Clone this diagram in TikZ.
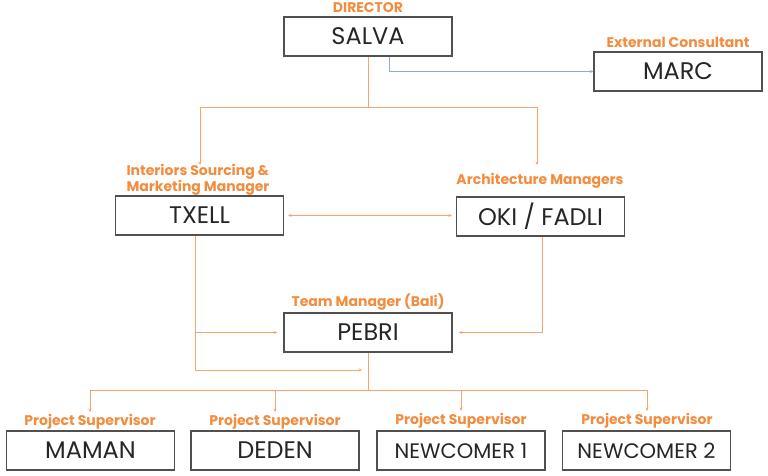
\documentclass[tikz,border=0pt]{standalone}
\usepackage{fontspec}
\setmainfont{Poppins}
\usetikzlibrary{arrows.meta}
\definecolor{lineor}{HTML}{F7A46E}
\definecolor{labor}{HTML}{F28C3E}
\definecolor{lineblue}{HTML}{8FA9DA}
\definecolor{boxgray}{HTML}{505050}
\begin{document}
\begin{tikzpicture}[x=1pt,y=-1pt,
  box/.style={draw=boxgray,line width=1.3pt,minimum width=168pt,minimum height=39pt,inner sep=0pt,font=\fontsize{24}{28}\selectfont,text=black!85},
  lab/.style={text=labor,font=\bfseries\fontsize{14}{13.5}\selectfont,inner sep=0pt},
  conn/.style={draw=lineor,line width=1pt,-{Stealth[length=3.5pt,width=3pt]}},
  conn2/.style={draw=lineor,line width=1pt}]
\useasboundingbox (0,0) rectangle (768,476);
% boxes
\node[box] (salva) at (368,36.5) {SALVA};
\node[box] (marc) at (678,71.5) {MARC};
\node[box] (txell) at (199.5,215.5) {TXELL};
\node[box] (oki) at (540.5,216.5) {OKI / FADLI};
\node[box] (pebri) at (368,332.5) {PEBRI};
\node[box] (maman) at (90.5,450.5) {MAMAN};
\node[box] (deden) at (275,450.5) {DEDEN};
\node[box,font=\fontsize{21}{24}\selectfont] (nc1) at (461,450.5) {NEWCOMER 1};
\node[box,font=\fontsize{21}{24}\selectfont] (nc2) at (646.5,450.5) {NEWCOMER 2};
% labels
\node[lab] (ldir) at (368,7.5) {DIRECTOR};
\node[lab] (lext) at (678,42.5) {External Consultant};
\node[lab,align=left] (lint) at (198,179.5) {Interiors Sourcing \&\\Marketing Manager};
\node[lab] (larch) at (540,180.5) {Architecture Managers};
\node[lab] (lteam) at (368,302.5) {Team Manager (Bali)};
\node[lab] (lps1) at (90,421.5) {Project Supervisor};
\node[lab] (lps2) at (275,421.5) {Project Supervisor};
\node[lab] (lps3) at (461,420.5) {Project Supervisor};
\node[lab] (lps4) at (647,420.5) {Project Supervisor};
% coordinates
\coordinate (j1) at (368,108);
\coordinate (j2) at (368,390);
\coordinate (tA) at (200,165);
\coordinate (tB) at (537,165);
% SALVA -> MARC (blue)
\draw[draw=lineblue,line width=0.9pt,-{Stealth[length=3.5pt,width=3pt]}] ([xshift=21pt]salva.south) |- (marc.west);
% SALVA down
\draw[conn2] (salva.south) -- (j1);
\draw[conn] (j1) -| (tA);
\draw[conn] (j1) -| (tB);
% TXELL <-> OKI
\draw[draw=lineor,line width=1pt,{Stealth[length=3.5pt,width=3pt]}-{Stealth[length=3.5pt,width=3pt]}] ([xshift=4pt]txell.east) -- ([xshift=-4pt]oki.west|-txell.east);
% TXELL down
\coordinate (td) at ([xshift=-4.5pt]txell.south);
\coordinate (tb) at (td|-pebri.west);
\coordinate (tc) at (td|-0,370);
\draw[conn2] (td) -- (tc);
\draw[conn] (tb) -- ([xshift=-6pt]pebri.west);
\draw[conn] (tc) -- (362,370);
% OKI down to PEBRI
\draw[conn] ([xshift=1.5pt]oki.south) |- ([xshift=6pt]pebri.east);
% PEBRI down
\draw[conn2] (pebri.south) -- (j2);
\draw[conn2] (90,390) -- (647,390);
\draw[conn] (90,390) -- (90,412);
\draw[conn] (275,390) -- (275,412);
\draw[conn] (461,390) -- (461,411);
\draw[conn] (647,390) -- (647,411);
\end{tikzpicture}
\end{document}
